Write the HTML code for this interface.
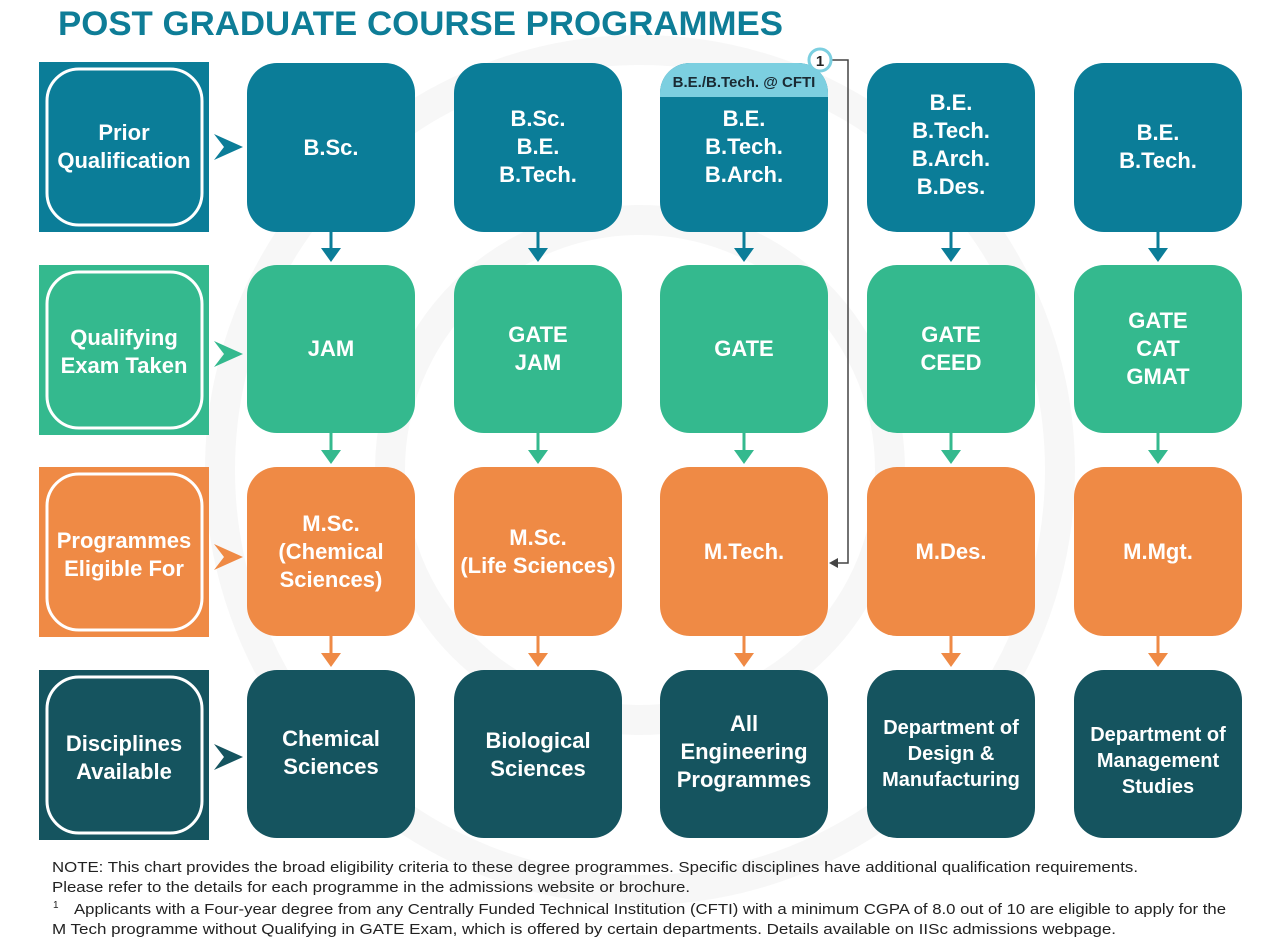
<!DOCTYPE html>
<html><head><meta charset="utf-8"><style>
html,body{margin:0;padding:0;background:#fff}
svg{display:block}
text{font-family:"Liberation Sans",sans-serif}
.b{font-weight:bold;fill:#fff;font-size:22px;text-anchor:middle}
.n{font-size:15px;fill:#222}
</style></head><body>
<svg width="1270" height="948" viewBox="0 0 1270 948" xmlns="http://www.w3.org/2000/svg">
<rect width="1270" height="948" fill="#fff"/>
<g fill="none" stroke="#f7f7f7" stroke-width="30">
<circle cx="640" cy="470" r="420"/>
<circle cx="640" cy="470" r="250"/>
</g>
<text x="58" y="35" font-size="34" font-weight="bold" fill="#0e7d97" textLength="725" lengthAdjust="spacingAndGlyphs">POST GRADUATE COURSE PROGRAMMES</text>

<rect x="39" y="62" width="170" height="170" fill="#0b7d98"/>
<rect x="47" y="69" width="155" height="156" rx="32" fill="none" stroke="#fff" stroke-width="3"/>
<rect x="39" y="265" width="170" height="170" fill="#34b98e"/>
<rect x="47" y="272" width="155" height="156" rx="32" fill="none" stroke="#fff" stroke-width="3"/>
<rect x="39" y="467" width="170" height="170" fill="#ef8a45"/>
<rect x="47" y="474" width="155" height="156" rx="32" fill="none" stroke="#fff" stroke-width="3"/>
<rect x="39" y="670" width="170" height="170" fill="#15545f"/>
<rect x="47" y="677" width="155" height="156" rx="32" fill="none" stroke="#fff" stroke-width="3"/>
<text class="b" x="124" y="140">Prior</text><text class="b" x="124" y="168">Qualification</text>
<text class="b" x="124" y="345">Qualifying</text><text class="b" x="124" y="373">Exam Taken</text>
<text class="b" x="124" y="548">Programmes</text><text class="b" x="124" y="576">Eligible For</text>
<text class="b" x="124" y="751">Disciplines</text><text class="b" x="124" y="779">Available</text>

<path d="M214,134 L243,147 L214,160 L224,147 Z" fill="#0b7d98"/>
<path d="M214,341 L243,354 L214,367 L224,354 Z" fill="#34b98e"/>
<path d="M214,544 L243,557 L214,570 L224,557 Z" fill="#ef8a45"/>
<path d="M214,744 L243,757 L214,770 L224,757 Z" fill="#15545f"/>

<g>
<rect x="247" y="63" width="168" height="169" rx="30" fill="#0b7d98"/>
<rect x="454" y="63" width="168" height="169" rx="30" fill="#0b7d98"/>
<rect x="660" y="63" width="168" height="169" rx="30" fill="#0b7d98"/>
<rect x="867" y="63" width="168" height="169" rx="30" fill="#0b7d98"/>
<rect x="1074" y="63" width="168" height="169" rx="30" fill="#0b7d98"/>
<rect x="247" y="265" width="168" height="168" rx="30" fill="#34b98e"/>
<rect x="454" y="265" width="168" height="168" rx="30" fill="#34b98e"/>
<rect x="660" y="265" width="168" height="168" rx="30" fill="#34b98e"/>
<rect x="867" y="265" width="168" height="168" rx="30" fill="#34b98e"/>
<rect x="1074" y="265" width="168" height="168" rx="30" fill="#34b98e"/>
<rect x="247" y="467" width="168" height="169" rx="30" fill="#ef8a45"/>
<rect x="454" y="467" width="168" height="169" rx="30" fill="#ef8a45"/>
<rect x="660" y="467" width="168" height="169" rx="30" fill="#ef8a45"/>
<rect x="867" y="467" width="168" height="169" rx="30" fill="#ef8a45"/>
<rect x="1074" y="467" width="168" height="169" rx="30" fill="#ef8a45"/>
<rect x="247" y="670" width="168" height="168" rx="30" fill="#15545f"/>
<rect x="454" y="670" width="168" height="168" rx="30" fill="#15545f"/>
<rect x="660" y="670" width="168" height="168" rx="30" fill="#15545f"/>
<rect x="867" y="670" width="168" height="168" rx="30" fill="#15545f"/>
<rect x="1074" y="670" width="168" height="168" rx="30" fill="#15545f"/>
</g>
<path d="M660,97 L660,93 A30,30 0 0 1 690,63 L798,63 A30,30 0 0 1 828,93 L828,97 Z" fill="#7ccfe0"/>
<text x="744" y="87" font-size="15" font-weight="bold" fill="#1a2a33" text-anchor="middle">B.E./B.Tech. @ CFTI</text>
<path d="M830,60 L848,60 L848,563 L832,563" fill="none" stroke="#444" stroke-width="1.5"/>
<path d="M829,563 L838,558 L838,568 Z" fill="#444"/>
<circle cx="820" cy="60" r="11" fill="#fff" stroke="#7ccfe0" stroke-width="3"/>
<text x="820" y="66" font-size="15" font-weight="bold" fill="#222" text-anchor="middle">1</text>

<g stroke-width="3">
<g stroke="#0b7d98"><line x1="331" y1="232" x2="331" y2="252"/><line x1="538" y1="232" x2="538" y2="252"/><line x1="744" y1="232" x2="744" y2="252"/><line x1="951" y1="232" x2="951" y2="252"/><line x1="1158" y1="232" x2="1158" y2="252"/></g>
<g stroke="#34b98e"><line x1="331" y1="433" x2="331" y2="454"/><line x1="538" y1="433" x2="538" y2="454"/><line x1="744" y1="433" x2="744" y2="454"/><line x1="951" y1="433" x2="951" y2="454"/><line x1="1158" y1="433" x2="1158" y2="454"/></g>
<g stroke="#ef8a45"><line x1="331" y1="636" x2="331" y2="657"/><line x1="538" y1="636" x2="538" y2="657"/><line x1="744" y1="636" x2="744" y2="657"/><line x1="951" y1="636" x2="951" y2="657"/><line x1="1158" y1="636" x2="1158" y2="657"/></g>
</g>
<g fill="#0b7d98"><path d="M321,248 L341,248 L331,262 Z"/><path d="M528,248 L548,248 L538,262 Z"/><path d="M734,248 L754,248 L744,262 Z"/><path d="M941,248 L961,248 L951,262 Z"/><path d="M1148,248 L1168,248 L1158,262 Z"/></g>
<g fill="#34b98e"><path d="M321,450 L341,450 L331,464 Z"/><path d="M528,450 L548,450 L538,464 Z"/><path d="M734,450 L754,450 L744,464 Z"/><path d="M941,450 L961,450 L951,464 Z"/><path d="M1148,450 L1168,450 L1158,464 Z"/></g>
<g fill="#ef8a45"><path d="M321,653 L341,653 L331,667 Z"/><path d="M528,653 L548,653 L538,667 Z"/><path d="M734,653 L754,653 L744,667 Z"/><path d="M941,653 L961,653 L951,667 Z"/><path d="M1148,653 L1168,653 L1158,667 Z"/></g>

<text class="b" x="331" y="155">B.Sc.</text>
<text class="b" x="538" y="126">B.Sc.</text><text class="b" x="538" y="154">B.E.</text><text class="b" x="538" y="182">B.Tech.</text>
<text class="b" x="744" y="126">B.E.</text><text class="b" x="744" y="154">B.Tech.</text><text class="b" x="744" y="182">B.Arch.</text>
<text class="b" x="951" y="110">B.E.</text><text class="b" x="951" y="138">B.Tech.</text><text class="b" x="951" y="166">B.Arch.</text><text class="b" x="951" y="194">B.Des.</text>
<text class="b" x="1158" y="140">B.E.</text><text class="b" x="1158" y="168">B.Tech.</text>
<text class="b" x="331" y="356">JAM</text>
<text class="b" x="538" y="342">GATE</text><text class="b" x="538" y="370">JAM</text>
<text class="b" x="744" y="356">GATE</text>
<text class="b" x="951" y="342">GATE</text><text class="b" x="951" y="370">CEED</text>
<text class="b" x="1158" y="328">GATE</text><text class="b" x="1158" y="356">CAT</text><text class="b" x="1158" y="384">GMAT</text>
<text class="b" x="331" y="531">M.Sc.</text><text class="b" x="331" y="559">(Chemical</text><text class="b" x="331" y="587">Sciences)</text>
<text class="b" x="538" y="545">M.Sc.</text><text class="b" x="538" y="573">(Life Sciences)</text>
<text class="b" x="744" y="559">M.Tech.</text>
<text class="b" x="951" y="559">M.Des.</text>
<text class="b" x="1158" y="559">M.Mgt.</text>
<text class="b" x="331" y="746">Chemical</text><text class="b" x="331" y="774">Sciences</text>
<text class="b" x="538" y="748">Biological</text><text class="b" x="538" y="776">Sciences</text>
<text class="b" x="744" y="731">All</text><text class="b" x="744" y="759">Engineering</text><text class="b" x="744" y="787">Programmes</text>
<text class="b" x="951" y="734" style="font-size:20px">Department of</text><text class="b" x="951" y="760" style="font-size:20px">Design &amp;</text><text class="b" x="951" y="786" style="font-size:20px">Manufacturing</text>
<text class="b" x="1158" y="741" style="font-size:20px">Department of</text><text class="b" x="1158" y="767" style="font-size:20px">Management</text><text class="b" x="1158" y="793" style="font-size:20px">Studies</text>

<text class="n" x="52" y="872" textLength="1086" lengthAdjust="spacingAndGlyphs">NOTE: This chart provides the broad eligibility criteria to these degree programmes. Specific disciplines have additional qualification requirements.</text>
<text class="n" x="52" y="892" textLength="638" lengthAdjust="spacingAndGlyphs">Please refer to the details for each programme in the admissions website or brochure.</text>
<text x="53" y="908" font-size="10" fill="#222">1</text>
<text class="n" x="74" y="914" textLength="1152" lengthAdjust="spacingAndGlyphs">Applicants with a Four-year degree from any Centrally Funded Technical Institution (CFTI) with a minimum CGPA of 8.0 out of 10 are eligible to apply for the</text>
<text class="n" x="52" y="934" textLength="1064" lengthAdjust="spacingAndGlyphs">M Tech programme without Qualifying in GATE Exam, which is offered by certain departments. Details available on IISc admissions webpage.</text>
</svg>
</body></html>
